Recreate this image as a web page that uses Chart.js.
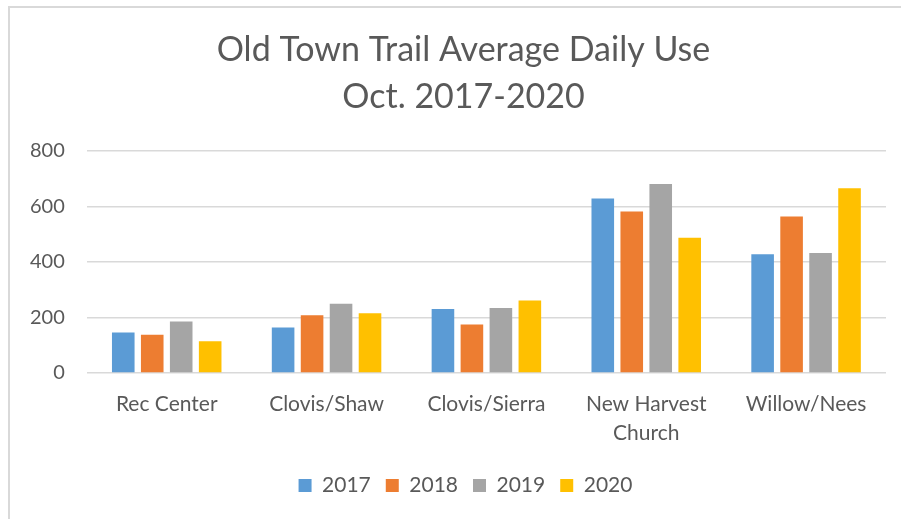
<!DOCTYPE html>
<html>
<head>
<meta charset="utf-8">
<script src="https://cdn.jsdelivr.net/npm/chart.js@4"></script>
<style>
  html, body { margin: 0; padding: 0; background: #fff; overflow: hidden; }
  #wrap { position: relative; width: 901px; height: 519px; }
  #frame { position: absolute; left: 8px; top: 6px; width: 1000px; height: 1000px; border-left: 2px solid #d9d9d9; border-top: 2px solid #d9d9d9; box-sizing: border-box; pointer-events: none; }
  canvas { position: absolute; left: 0; top: 0; }
</style>
</head>
<body>
<div id="wrap">
  <canvas id="c" width="901" height="519"></canvas>
  <div id="frame"></div>
</div>
<script>
const categories = ["Rec Center", "Clovis/Shaw", "Clovis/Sierra", ["New Harvest", "Church"], "Willow/Nees"];
const seriesNames = ["2017", "2018", "2019", "2020"];
const values2017 = [146, 164, 231, 629, 428];
const values2018 = [138, 208, 175, 582, 564];
const values2019 = [186, 250, 234, 681, 432];
const values2020 = [114, 215, 261, 487, 666];
const yTicks = [0, 200, 400, 600, 800];
const titleLines = ["Old Town Trail Average Daily Use", "Oct. 2017-2020"];

const colors = ["#5B9BD5", "#ED7D31", "#A5A5A5", "#FFC000"];
const allValues = [values2017, values2018, values2019, values2020];
const FONT = "Lato, 'Open Sans', sans-serif";
const textColor = "#595959";

const shiftBlocks = {
  id: "shiftBlocks",
  afterLayout(chart) {
    if (chart.titleBlock) { chart.titleBlock.left += 33; }
    if (chart.legend) { chart.legend.left += 37; }
  }
};

new Chart(document.getElementById("c"), {
  type: "bar",
  data: {
    labels: categories,
    datasets: seriesNames.map((n, i) => ({
      label: n,
      data: allValues[i],
      backgroundColor: colors[i],
      borderWidth: 0,
      barPercentage: 0.78,
      categoryPercentage: 0.725
    }))
  },
  plugins: [shiftBlocks],
  options: {
    responsive: false,
    animation: false,
    devicePixelRatio: 1,
    layout: { padding: { left: 8, right: 15, top: 27, bottom: 13 } },
    plugins: {
      title: {
        display: true,
        text: titleLines,
        color: textColor,
        font: { family: FONT, size: 34, weight: "normal", lineHeight: "47px" },
        padding: { top: 0, bottom: 30 }
      },
      legend: {
        position: "bottom",
        labels: {
          boxWidth: 13, boxHeight: 13, padding: 15,
          color: textColor,
          font: { family: FONT, size: 21 }
        }
      },
      tooltip: { enabled: false }
    },
    scales: {
      x: {
        grid: { display: false },
        border: { display: false },
        afterFit: (axis) => { axis.height += 3; },
        ticks: { color: textColor, font: { family: FONT, size: 21, lineHeight: "29px" }, padding: 9, maxRotation: 0, autoSkip: false }
      },
      y: {
        min: 0, max: 800,
        afterBuildTicks: (axis) => { axis.ticks = yTicks.map(v => ({ value: v })); },
        grid: { color: "#d9d9d9", lineWidth: 1.5, drawTicks: false },
        border: { display: false },
        ticks: { color: textColor, font: { family: FONT, size: 20 }, padding: 22 }
      }
    }
  }
});
</script>
</body>
</html>
